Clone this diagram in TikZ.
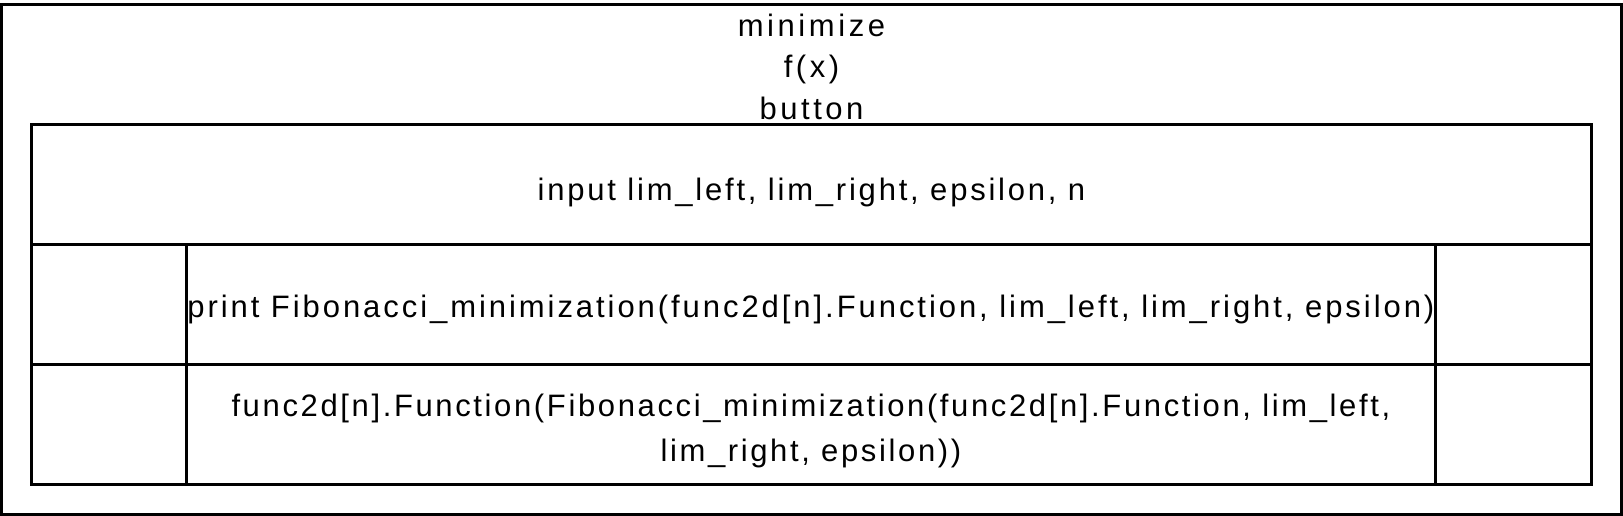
\documentclass[tikz,border=0pt]{standalone}
\usepackage{fontspec}
\setmainfont{Liberation Sans}[LetterSpace=9]
\newfontfamily\titlefont{Liberation Sans}[LetterSpace=11.5]
\newfontfamily\rowtwofont{Liberation Sans}[LetterSpace=9.5]
\newfontfamily\rowthreefont{Liberation Sans}[LetterSpace=8.5]
\newcommand\firststrut{\rule{0pt}{33.5pt}}
\begin{document}
\begin{tikzpicture}[x=1pt,y=-1pt,
  frame/.style={draw=black, line width=3pt, rectangle, inner sep=0pt, outer sep=0pt},
  cell/.style={frame, minimum height=120pt},
  label/.style={font=\fontsize{31}{42.5}\selectfont, align=center, inner sep=0pt, anchor=north}]
\useasboundingbox (0,0) rectangle (1623,516);
% outer box
\node[frame, minimum width=1620pt, minimum height=509.5pt] (outer) at (811.5,259.45) {};
\node[label, font=\titlefont\fontsize{31}{41.5}\selectfont] (title) at (811.5,2.5) {\firststrut minimize\\f(x)\\button};
% row 1
\node[cell, minimum width=1560pt] (r1) at (811.5,184.5) {};
\node[label] (r1t) at (811.5,166.5) {\firststrut input lim\_left, lim\_right, epsilon, n};
% row 2
\node[cell, minimum width=155.3pt] (r2l) at (109.15,304.2) {};
\node[cell, minimum width=1248.2pt] (r2m) at (810.9,304.2) {};
\node[cell, minimum width=156.5pt] (r2r) at (1513.25,304.2) {};
\node[label, font=\rowtwofont\fontsize{31}{42.5}\selectfont] (r2t) at (810.9,283.5) {\firststrut print Fibonacci\_minimization(func2d[n].Function, lim\_left, lim\_right, epsilon)};
% row 3
\node[cell, minimum width=155.3pt] (r3l) at (109.15,424.2) {};
\node[cell, minimum width=1248.2pt] (r3m) at (810.9,424.2) {};
\node[cell, minimum width=156.5pt] (r3r) at (1513.25,424.2) {};
\node[label, font=\rowthreefont\fontsize{31}{45.5}\selectfont] (r3t) at (810.9,382.5) {\firststrut func2d[n].Function(Fibonacci\_minimization(func2d[n].Function, lim\_left,\\lim\_right, epsilon))};
\end{tikzpicture}
\end{document}
